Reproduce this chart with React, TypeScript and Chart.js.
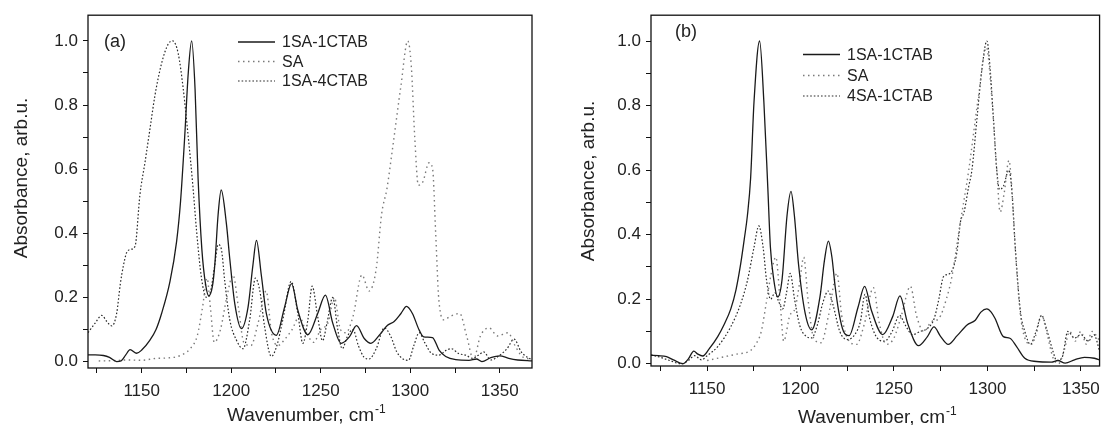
import React, { useEffect, useRef } from "react";
import { Chart, registerables } from "chart.js";
Chart.register(...registerables);

const FONT = "'Liberation Sans', Arial, Helvetica, sans-serif";

// ---------- data ----------
const X_TICKS = [1125, 1150, 1175, 1200, 1225, 1250, 1275, 1300, 1325, 1350];
const Y_TICKS = [0, 0.1, 0.2, 0.3, 0.4, 0.5, 0.6, 0.7, 0.8, 0.9, 1.0];
const X_TITLE = "Wavenumber, cm";
const X_TITLE_SUP = "-1";
const Y_TITLE = "Absorbance, arb.u.";

const A_NAMES = ["1SA-1CTAB", "SA", "1SA-4CTAB"];
const B_NAMES = ["1SA-1CTAB", "SA", "4SA-1CTAB"];

// panel (a)
const A_SOLID: number[][] = [[1120,0.021],[1124,0.021],[1128.6,0.019],[1132,0.013],[1136,0.0],[1138.5,0.002],[1141,0.02],[1143.5,0.037],[1147.2,0.026],[1150,0.036],[1154.6,0.067],[1158,0.1],[1161.1,0.15],[1165.8,0.25],[1169.5,0.375],[1171.7,0.5],[1174,0.7],[1176,0.9],[1177.9,1.0],[1179.8,0.85],[1181.5,0.57],[1183.6,0.35],[1185.7,0.24],[1187.5,0.205],[1189.5,0.235],[1190.8,0.3],[1192.7,0.46],[1194.4,0.535],[1197.3,0.43],[1199.2,0.32],[1202,0.18],[1205.7,0.103],[1209.4,0.17],[1212.1,0.3],[1214.1,0.378],[1216.8,0.27],[1219.6,0.15],[1225.2,0.082],[1229.8,0.17],[1233.7,0.243],[1237.2,0.16],[1242.8,0.084],[1248.3,0.15],[1252.6,0.207],[1256.7,0.12],[1261.4,0.057],[1266,0.077],[1270,0.112],[1274.3,0.072],[1278,0.057],[1282.7,0.082],[1287.3,0.113],[1291,0.125],[1294.8,0.15],[1297.9,0.172],[1301.2,0.15],[1305,0.098],[1307.5,0.077],[1312.4,0.075],[1316.1,0.036],[1319.8,0.016],[1325.4,0.006],[1332.8,0.004],[1337,0.008],[1340,0.0],[1345,0.012],[1350,0.018],[1355,0.01],[1360,0.005],[1368,0.002]];
const A_SA: number[][] = [[1126,0.002],[1134,0.003],[1142,0.005],[1150,0.004],[1158,0.01],[1166,0.012],[1172,0.02],[1177,0.04],[1181,0.08],[1184,0.17],[1186.5,0.26],[1188.5,0.16],[1190.5,0.06],[1194,0.1],[1197.5,0.2],[1201,0.27],[1204,0.17],[1207,0.06],[1211,0.05],[1215,0.12],[1219.5,0.22],[1222.5,0.09],[1226,0.05],[1230,0.07],[1234,0.1],[1238,0.14],[1242,0.09],[1246,0.06],[1250,0.1],[1254,0.12],[1257.6,0.2],[1261,0.1],[1264,0.09],[1268,0.14],[1273,0.27],[1277,0.22],[1281,0.29],[1284,0.46],[1287,0.54],[1290,0.66],[1294.8,0.86],[1298.6,1.0],[1300.6,0.92],[1302.5,0.7],[1304.5,0.55],[1307,0.56],[1310.5,0.62],[1312.5,0.6],[1314.2,0.4],[1316,0.19],[1319,0.13],[1322,0.14],[1327.6,0.15],[1331.5,0.08],[1335.3,0.007],[1339.2,0.08],[1344,0.105],[1348.8,0.08],[1354.6,0.09],[1358.5,0.05],[1362.3,0.017],[1368,0.007]];
const A_MIX: number[][] = [[1120,0.09],[1124,0.12],[1127.7,0.144],[1130.5,0.125],[1133.3,0.111],[1136,0.15],[1138,0.24],[1139.8,0.3],[1141.6,0.34],[1144,0.35],[1146.3,0.36],[1149,0.52],[1151.8,0.62],[1154.6,0.725],[1157.4,0.83],[1161.1,0.93],[1164.8,0.99],[1167.3,1.0],[1170.4,0.96],[1173.2,0.85],[1176,0.7],[1178.7,0.54],[1180.6,0.41],[1183.4,0.26],[1186.2,0.2],[1188.5,0.22],[1190.8,0.3],[1192.7,0.365],[1194.5,0.35],[1196.4,0.25],[1199.2,0.13],[1202.9,0.067],[1206.6,0.04],[1210.3,0.13],[1213.5,0.26],[1216,0.22],[1218.6,0.11],[1222.4,0.016],[1225.5,0.05],[1228.8,0.13],[1233.5,0.25],[1237.2,0.15],[1240,0.057],[1242.8,0.13],[1245.2,0.235],[1248.3,0.14],[1251,0.065],[1253.5,0.12],[1256.7,0.2],[1259.5,0.1],[1262,0.04],[1265,0.08],[1268,0.1],[1271,0.05],[1274,0.015],[1277,0.008],[1281,0.04],[1285.5,0.105],[1289,0.08],[1292.5,0.03],[1296,0.008],[1299,0.004],[1302,0.05],[1305,0.09],[1308,0.06],[1312,0.025],[1316,0.02],[1320,0.035],[1323,0.04],[1327,0.025],[1331,0.02],[1335,0.01],[1338,0.02],[1341,0.03],[1345,0.005],[1350,0.02],[1354,0.04],[1358,0.07],[1362,0.03],[1368,0.005]];

// panel (b)
const B_SOLID: number[][] = [[1120,0.026],[1124,0.025],[1128.3,0.022],[1132,0.012],[1137.1,0.0],[1140,0.015],[1142.9,0.039],[1145,0.03],[1147.7,0.024],[1151,0.045],[1155.7,0.084],[1159,0.12],[1162.7,0.17],[1165.5,0.23],[1168,0.31],[1170,0.39],[1171.6,0.46],[1173.3,0.575],[1175.1,0.81],[1178.1,1.0],[1180.4,0.81],[1182.5,0.545],[1183.9,0.36],[1185.7,0.26],[1187.8,0.207],[1190.1,0.26],[1192.8,0.46],[1194.9,0.534],[1196.7,0.46],[1198.9,0.31],[1202.5,0.156],[1206,0.105],[1210.4,0.207],[1212.8,0.32],[1214.9,0.38],[1216.8,0.33],[1218.5,0.24],[1220.5,0.16],[1223,0.1],[1226,0.087],[1230.8,0.176],[1234.3,0.24],[1237.9,0.166],[1244,0.09],[1249.3,0.146],[1253.2,0.21],[1257.3,0.125],[1263.1,0.056],[1267.9,0.084],[1271.4,0.114],[1275,0.084],[1279,0.06],[1283.8,0.087],[1289.1,0.12],[1293.5,0.135],[1296.5,0.16],[1299.7,0.17],[1302,0.16],[1304.1,0.14],[1308.5,0.084],[1312,0.079],[1315.6,0.053],[1320,0.017],[1326.2,0.007],[1334.2,0.005],[1337.7,0.01],[1341.6,0.002],[1346.6,0.012],[1351.9,0.02],[1357.2,0.017],[1360.7,0.01]];
const B_SA: number[][] = [[1150,0.01],[1158,0.02],[1166,0.03],[1173,0.04],[1176,0.06],[1179,0.1],[1182,0.2],[1184,0.27],[1186.8,0.33],[1189,0.2],[1191,0.07],[1194.3,0.15],[1197,0.17],[1199.5,0.25],[1201.7,0.33],[1204,0.2],[1207,0.08],[1211,0.065],[1215,0.15],[1219.5,0.28],[1222,0.15],[1226,0.07],[1230,0.06],[1234,0.12],[1239,0.236],[1242,0.13],[1246,0.06],[1250,0.08],[1254,0.15],[1258.8,0.24],[1262,0.15],[1266,0.1],[1270,0.13],[1274,0.14],[1278,0.2],[1281,0.27],[1285,0.42],[1290,0.6],[1295,0.82],[1299.5,0.98],[1302,0.85],[1305,0.6],[1306.8,0.47],[1309,0.53],[1311.5,0.63],[1313,0.55],[1315,0.35],[1317.5,0.16],[1320,0.08],[1323.5,0.06],[1326,0.09],[1329,0.15],[1332,0.09],[1335,0.02],[1338,0.0],[1341,0.04],[1344,0.1],[1347,0.07],[1350,0.1],[1353,0.06],[1356,0.1],[1359,0.08],[1361,0.06]];
const B_MIX: number[][] = [[1120,0.028],[1125,0.02],[1130,0.01],[1136,0.0],[1140,0.01],[1143.3,0.025],[1147,0.012],[1150,0.025],[1155.7,0.053],[1162.7,0.115],[1168,0.186],[1171.6,0.258],[1175.1,0.36],[1177.7,0.427],[1180,0.36],[1181.8,0.26],[1184,0.2],[1186.3,0.22],[1188.5,0.19],[1190.5,0.17],[1192.5,0.22],[1194.5,0.28],[1196.8,0.2],[1199.5,0.12],[1203,0.085],[1206,0.08],[1209,0.12],[1212,0.19],[1214.8,0.225],[1217.5,0.18],[1221,0.1],[1225,0.075],[1229,0.09],[1232,0.13],[1234.5,0.215],[1237,0.14],[1241,0.08],[1245,0.07],[1249,0.1],[1253,0.15],[1256,0.12],[1260,0.09],[1264,0.1],[1268,0.11],[1271.5,0.14],[1274,0.2],[1276.5,0.27],[1280,0.28],[1283.5,0.34],[1285.6,0.44],[1287.5,0.47],[1290,0.55],[1291.7,0.6],[1294.4,0.76],[1297,0.91],[1299.7,1.0],[1301.5,0.91],[1303.2,0.76],[1305,0.6],[1306.5,0.54],[1308.5,0.55],[1311.5,0.6],[1313,0.54],[1315,0.35],[1317.7,0.16],[1320,0.1],[1323,0.06],[1326,0.1],[1329,0.15],[1331.5,0.11],[1335,0.04],[1337,0.01],[1340,0.02],[1343,0.1],[1346.6,0.08],[1350,0.09],[1354,0.07],[1357,0.09],[1360,0.04]];

// ---------- layout / styles ----------
const H = 425;
const STYLES = [
  { color: "#1a1a1a", width: 1.3, dash: [] as number[] },
  { color: "#7a7a7a", width: 1.4, dash: [1.5, 3.5] },
  { color: "#2a2a2a", width: 1.2, dash: [1.6, 2] },
];

type PanelCfg = {
  left: number; width: number;
  area: { l: number; r: number; t: number; b: number };
  xmin: number; xmax: number; ymin: number; ymax: number;
  tag: string; tagX: number; tagY: number;
  names: string[];
  legX0: number; legX1: number; legTX: number; legRows: number[];
  xTitleX: number; xTitleY: number;
  yTitleX: number; yTitleY: number;
  series: number[][][];
};

const PANELS: PanelCfg[] = [
  {
    left: 0, width: 555,
    area: { l: 88, r: 532, t: 12, b: 368 },
    xmin: 1120, xmax: 1368, ymin: -0.02, ymax: 1.08,
    tag: "(a)", tagX: 104, tagY: 42,
    names: A_NAMES,
    legX0: 238, legX1: 275, legTX: 282, legRows: [42, 61.5, 81],
    xTitleX: 227, xTitleY: 421,
    yTitleX: 22, yTitleY: 178,
    series: [A_SOLID, A_SA, A_MIX],
  },
  {
    left: 555, width: 553,
    area: { l: 96, r: 548, t: 12, b: 366 },
    xmin: 1120, xmax: 1360, ymin: -0.007, ymax: 1.08,
    tag: "(b)", tagX: 120, tagY: 32,
    names: B_NAMES,
    legX0: 248, legX1: 285, legTX: 292, legRows: [54.5, 75.5, 96],
    xTitleX: 243, xTitleY: 423,
    yTitleX: 34, yTitleY: 181,
    series: [B_SOLID, B_SA, B_MIX],
  },
];

function Panel({ cfg }: { cfg: PanelCfg }) {
  const ref = useRef<HTMLCanvasElement | null>(null);
  useEffect(() => {
    const canvas = ref.current;
    if (!canvas) return;
    const a = cfg.area;
    const overlay = {
      id: "overlay",
      afterDraw(chart: any) {
        const ctx = chart.ctx as CanvasRenderingContext2D;
        const ca = chart.chartArea;
        ctx.save();
        ctx.strokeStyle = "#111";
        ctx.lineWidth = 1.3;
        ctx.setLineDash([]);
        ctx.strokeRect(ca.left, ca.top, ca.right - ca.left, ca.bottom - ca.top);
        ctx.fillStyle = "#222";
        // tag
        ctx.font = `18px ${FONT}`;
        ctx.textAlign = "left";
        ctx.textBaseline = "middle";
        ctx.fillText(cfg.tag, cfg.tagX, cfg.tagY);
        // legend
        ctx.font = `16px ${FONT}`;
        cfg.names.forEach((n, i) => {
          const st = STYLES[i];
          const y = cfg.legRows[i];
          ctx.beginPath();
          ctx.strokeStyle = st.color;
          ctx.lineWidth = st.width;
          ctx.setLineDash(st.dash);
          ctx.moveTo(cfg.legX0, y);
          ctx.lineTo(cfg.legX1, y);
          ctx.stroke();
          ctx.setLineDash([]);
          ctx.fillStyle = "#222";
          ctx.fillText(n, cfg.legTX, y + 1);
        });
        // x title with superscript
        ctx.textBaseline = "alphabetic";
        ctx.font = `19px ${FONT}`;
        ctx.fillText(X_TITLE, cfg.xTitleX, cfg.xTitleY);
        const w = ctx.measureText(X_TITLE).width;
        ctx.font = `12px ${FONT}`;
        ctx.fillText(X_TITLE_SUP, cfg.xTitleX + w + 1, cfg.xTitleY - 8);
        // y title
        ctx.font = `19px ${FONT}`;
        ctx.translate(cfg.yTitleX, cfg.yTitleY);
        ctx.rotate(-Math.PI / 2);
        ctx.textAlign = "center";
        ctx.textBaseline = "middle";
        ctx.fillText(Y_TITLE, 0, 0);
        ctx.restore();
      },
    };
    const chart = new Chart(canvas, {
      type: "line",
      data: {
        datasets: cfg.series.map((s, i) => ({
          label: cfg.names[i],
          data: s.map((p) => ({ x: p[0], y: p[1] })),
          borderColor: STYLES[i].color,
          borderWidth: STYLES[i].width,
          borderDash: STYLES[i].dash,
          pointRadius: 0,
          fill: false,
          cubicInterpolationMode: "monotone",
        })),
      },
      options: {
        responsive: false,
        animation: false,
        layout: { padding: { left: 0, right: cfg.width - a.r, top: a.t, bottom: 0 } },
        plugins: { legend: { display: false }, tooltip: { enabled: false } },
        scales: {
          x: {
            type: "linear",
            min: cfg.xmin,
            max: cfg.xmax,
            afterFit: (s: any) => { s.height = H - a.b; },
            afterBuildTicks: (ax: any) => {
              ax.ticks = X_TICKS.filter((v) => v >= cfg.xmin && v <= cfg.xmax).map((v) => ({ value: v }));
            },
            ticks: {
              autoSkip: false,
              maxRotation: 0,
              padding: 8,
              color: "#222",
              font: { size: 17, family: FONT },
              callback: (v: any) => (Math.round(v) % 50 === 0 ? String(Math.round(v)) : ""),
            },
            grid: { drawOnChartArea: false, drawTicks: true, tickLength: 5, color: "#111", lineWidth: 1 },
            border: { display: false },
          },
          y: {
            type: "linear",
            min: cfg.ymin,
            max: cfg.ymax,
            afterFit: (s: any) => { s.width = a.l; },
            afterBuildTicks: (ax: any) => {
              ax.ticks = Y_TICKS.map((v) => ({ value: v }));
            },
            ticks: {
              autoSkip: false,
              padding: 5,
              color: "#222",
              font: { size: 17, family: FONT },
              callback: (v: any) => (Math.round(v * 10) % 2 === 0 ? Number(v).toFixed(1) : ""),
            },
            grid: { drawOnChartArea: false, drawTicks: true, tickLength: 5, color: "#111", lineWidth: 1 },
            border: { display: false },
          },
        },
      },
      plugins: [overlay],
    } as any);
    return () => chart.destroy();
  }, [cfg]);
  return (
    <canvas
      ref={ref}
      width={cfg.width}
      height={H}
      style={{ position: "absolute", left: cfg.left, top: 0, width: cfg.width, height: H }}
    />
  );
}

export default function App() {
  return (
    <div style={{ position: "absolute", left: 0, top: 0, width: 1108, height: H, background: "#fff", overflow: "hidden" }}>
      {PANELS.map((p) => (
        <Panel key={p.tag} cfg={p} />
      ))}
    </div>
  );
}
